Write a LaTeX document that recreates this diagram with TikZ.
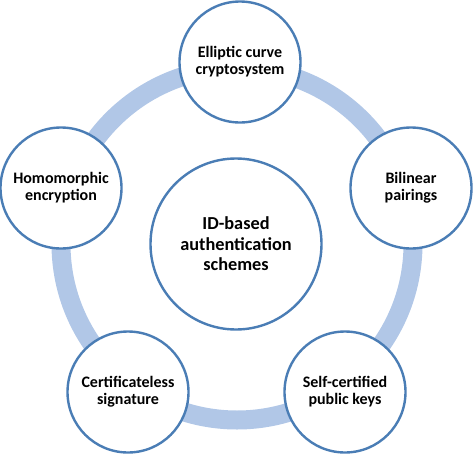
\documentclass[tikz,border=0pt]{standalone}
\usepackage{fontspec}
\setmainfont{Carlito}
\definecolor{ringblue}{HTML}{B1C7E7}
\definecolor{edgeblue}{HTML}{4A7DB5}
\begin{document}
\begin{tikzpicture}[x=1pt,y=1pt,
  outer/.style={circle,draw=edgeblue,line width=2.4pt,fill=white,minimum size=121pt,inner sep=0pt,align=center,font=\fontsize{16}{17}\selectfont\bfseries},
  inner/.style={circle,draw=edgeblue,line width=2.4pt,fill=white,minimum size=171pt,inner sep=0pt,align=center,font=\fontsize{18.3}{20.5}\selectfont\bfseries}]
\useasboundingbox (0,0) rectangle (474,-453);
\coordinate (c) at (237,-244);
\draw[ringblue,line width=19pt] (c) circle[radius=176];
\node[inner] (mid) at (236,-244) {ID-based\\authentication\\schemes};
\node[outer] (ecc) at (240,-62) {Elliptic curve\\cryptosystem};
\node[outer] (bil) at (411,-188) {Bilinear\\pairings};
\node[outer] (hom) at (61,-188) {Homomorphic\\encryption};
\node[outer] (cls) at (128,-392) {Certificateless\\signature};
\node[outer] (scp) at (345,-392) {Self-certified\\public keys};
\end{tikzpicture}
\end{document}
